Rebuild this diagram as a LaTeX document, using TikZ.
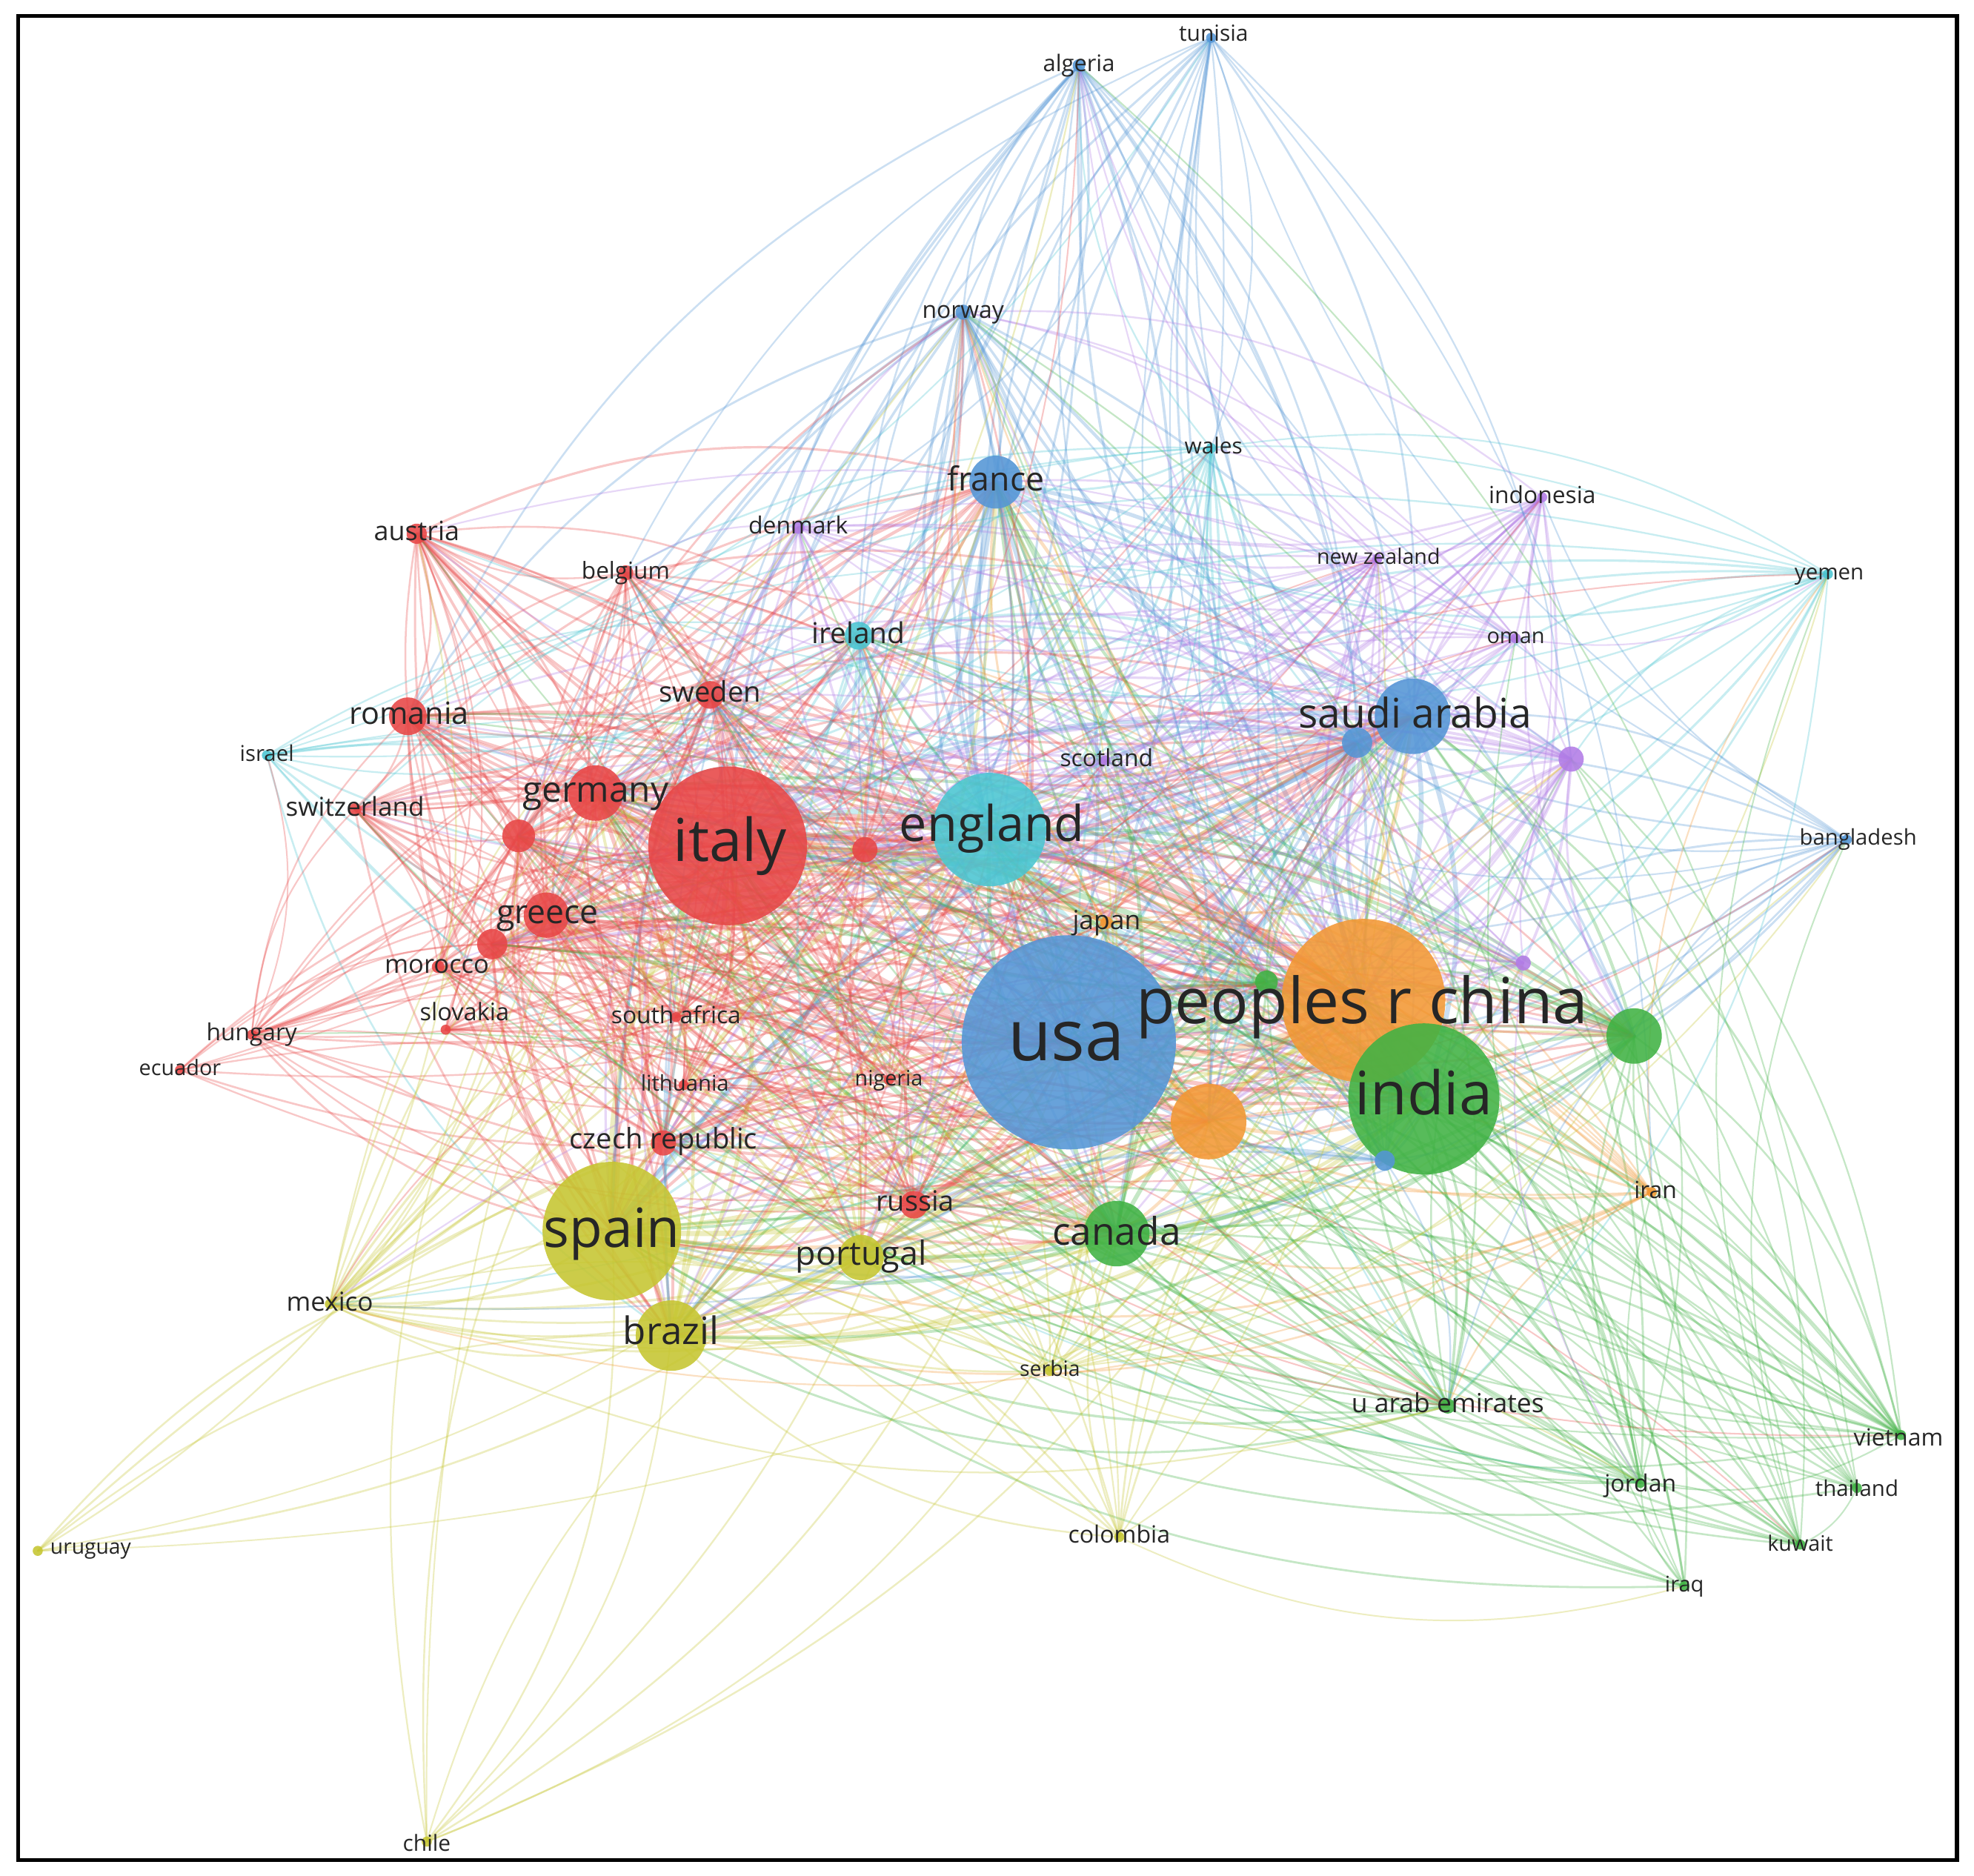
\documentclass[tikz,border=0pt]{standalone}
\usepackage{fontspec}
\setmainfont{Open Sans}
\usepackage{graphicx}
\pgfdeclarelayer{bg}
\pgfsetlayers{bg,main}
\definecolor{cRed}{RGB}{232,70,70}
\definecolor{cBlue}{RGB}{84,150,214}
\definecolor{cOrange}{RGB}{243,152,52}
\definecolor{cGreen}{RGB}{64,178,68}
\definecolor{cYellow}{RGB}{198,198,48}
\definecolor{cCyan}{RGB}{74,198,210}
\definecolor{cPurple}{RGB}{178,124,230}
\tikzset{
  country/.style={circle, inner sep=0pt, draw=none},
  lbl/.style={inner sep=0pt, text=black!85},
  link/.style={line cap=round, draw opacity=0.3},
  frameline/.style={line width=0.9pt, draw=black}
}
\def\nodedata{%
usa/849/828/85/cBlue/60/847/828/93/usa,
china/1083/795/65/cOrange/58/1082/800/359/peoples r china,
india/1131/873/60/cGreen/55/1131/873/109/india,
italy/578/672/63/cRed/58/580/672/90/italy,
england/786/659/45/cCyan/50/788/658/147/england,
spain/486/978/55/cYellow/50/486/980/108/spain,
saudi/1122/569/30/cBlue/45/1124/570/185/saudi arabia,
france/791/383/21/cBlue/42/791/383/77/france,
germany/473/630/22/cRed/40/473/630/116/germany,
canada/887/980/26/cGreen/38/887/981/102/canada,
brazil/533/1061/28/cYellow/36/533/1060/76/brazil,
orb/960/891/30/cOrange/35/0/0/0/-,
grb/1298/823/22/cGreen/30/0/0/0/-,
greece/434/727/18/cRed/32/435/727/81/greece,
portugal/684/999/18/cYellow/28/684/998/104/portugal,
romania/324/569/15/cRed/24/325/569/95/romania,
rda/412/664/13/cRed/26/0/0/0/-,
rdb/391/750/12/cRed/22/0/0/0/-,
blb/1078/590/12/cBlue/28/0/0/0/-,
sweden/564/552/11/cRed/24/564/552/81/sweden,
ireland/682/505/11/cCyan/24/682/505/74/ireland,
rdc/687/675/10/cRed/24/0/0/0/-,
russia/726/957/11/cRed/22/727/956/62/russia,
czech/527/908/10/cRed/22/527/907/149/czech republic,
pua/1248/603/10/cPurple/20/0/0/0/-,
austria/331/424/8/cRed/18/331/424/68/austria,
grc/1006/780/9/cGreen/20/0/0/0/-,
blc/1100/922/8/cBlue/15/0/0/0/-,
japan/879/733/5/cOrange/16/879/733/54/japan,
belgium/497/455/6/cRed/16/497/455/70/belgium,
denmark/634/419/5/cPurple/15/634/419/79/denmark,
norway/765/248/6/cBlue/24/765/248/65/norway,
wales/962/356/4/cCyan/15/964/356/46/wales,
indonesia/1225/395/4/cPurple/14/1225/395/85/indonesia,
nz/1094/444/4/cPurple/14/1095/444/98/new zealand,
yemen/1452/456/4/cCyan/13/1453/456/55/yemen,
oman/1204/507/4/cPurple/12/1204/507/46/oman,
israel/212/600/4/cCyan/11/212/600/43/israel,
scotland/878/604/4/cPurple/14/879/604/74/scotland,
switzerland/282/643/5/cRed/16/282/643/110/switzerland,
bangladesh/1467/667/4/cBlue/11/1476/667/93/bangladesh,
morocco/348/768/5/cRed/14/347/768/83/morocco,
slovakia/354/818/4/cRed/12/369/806/71/slovakia,
safrica/537/808/4/cRed/12/537/808/103/south africa,
hungary/200/822/4/cRed/11/200/822/72/hungary,
ecuador/143/850/4/cRed/8/143/850/65/ecuador,
lithuania/543/862/4/cRed/10/544/862/70/lithuania,
nigeria/706/858/4/cRed/10/706/858/54/nigeria,
iran/1312/947/4/cOrange/13/1315/947/34/iran,
mexico/262/1036/4/cYellow/15/262/1036/69/mexico,
serbia/834/1089/4/cYellow/10/834/1089/48/serbia,
uae/1150/1117/6/cGreen/17/1150/1117/153/u arab emirates,
vietnam/1510/1140/4/cGreen/13/1508/1144/71/vietnam,
jordan/1303/1178/4/cGreen/14/1303/1180/57/jordan,
thailand/1475/1182/4/cGreen/11/1475/1184/66/thailand,
colombia/889/1221/4/cYellow/9/889/1221/81/colombia,
uruguay/30/1232/4/cYellow/8/72/1230/64/uruguay,
kuwait/1430/1227/4/cGreen/11/1430/1228/52/kuwait,
iraq/1338/1260/4/cGreen/11/1338/1260/31/iraq,
chile/339/1463/4/cYellow/6/339/1466/38/chile,
algeria/857/52/5/cBlue/17/857/52/57/algeria,
tunisia/962/30/4/cBlue/12/964/28/55/tunisia,
pub/1210/765/6/cPurple/12/0/0/0/-}
\begin{document}
\begin{tikzpicture}[x=0.01cm,y=-0.01cm]
\useasboundingbox (0,0) rectangle (1568,1490);
% country circles
\foreach \id/\cx/\cy/\rr/\col/\k/\lx/\ly/\w/\txt in \nodedata {
  \node[country, fill=\col, fill opacity=0.88, minimum size={\rr*0.02cm}] (\id) at (\cx,\cy) {};
}
% labels
\foreach \id/\cx/\cy/\rr/\col/\k/\lx/\ly/\w/\txt in \nodedata {
  \ifnum\w>0
    \node[lbl] (\id-l) at (\lx,\ly) {\resizebox{\dimexpr0.01cm*\w\relax}{!}{\vphantom{bp}\txt}};
  \fi
}
% links
\begin{pgfonlayer}{bg}
\fill[white] (0,0) rectangle (1568,1490);
\pgfmathsetseed{2024}
\foreach \ida/\xa/\ya/\ra/\cola/\ka/\pa/\qa/\wa/\ta [count=\i] in \nodedata {
  \foreach \idb/\xb/\yb/\rb/\colb/\kb/\pb/\qb/\wb/\tb [count=\j] in \nodedata {
    \ifnum\j>\i
      \pgfmathsetmacro\pp{\ka*\kb/900}
      \ifx\cola\colb \pgfmathsetmacro\pp{\pp*2.2}\fi
      \pgfmathsetmacro\keep{rnd<\pp?1:0}
      \ifdim\keep pt>0.5pt
        \pgfmathsetmacro\lw{0.3+1.1*min(1,\ka*\kb/3600)}
        \pgfmathsetmacro\bd{rnd<0.5?20:-20}
        \ifnum\ka<\kb \edef\ec{\cola}\else\edef\ec{\colb}\fi
        \draw[link, draw=\ec, line width=\lw pt] (\ida.center) to[bend left=\bd] (\idb.center);
      \fi
    \fi
  }
}
\end{pgfonlayer}
\draw[frameline] (14.4,12.8) rectangle (1554.5,1477.5);
\end{tikzpicture}
\end{document}
